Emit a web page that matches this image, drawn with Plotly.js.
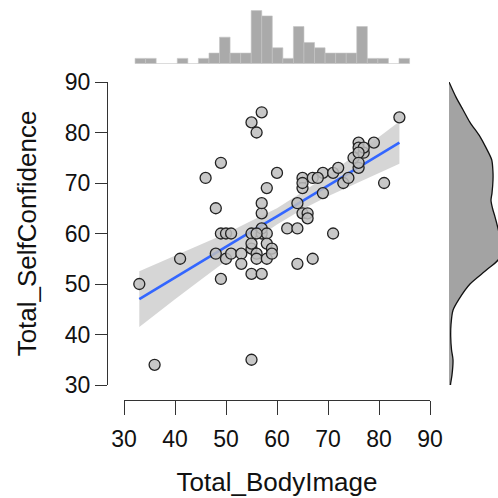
<!DOCTYPE html>
<html>
<head>
<meta charset="utf-8">
<script src="https://cdn.plot.ly/plotly-3.0.1.min.js"></script>
<style>html,body{margin:0;padding:0;background:#fff;}#chart{width:498px;height:498px;}</style>
</head>
<body>
<div id="chart"></div>
<script>
// Scatter data: Total_BodyImage (x) vs Total_SelfConfidence (y)
const bodyImage = [33,36,41,46,48,48,49,49,49,50,51,50,51,53,53,55,56,57,55,55,55,55,55,56,56,57,57,57,57,57,58,58,58,58,59,59,60,62,64,64,64,65,66,66,65,65,67,67,69,69,71,71,72,73,74,75,76,76,77,76,79,81,84,56,77,76,76,68,65];
const selfConfidence = [50,34,55,71,65,56,74,51,60,60,60,55,56,56,54,82,80,84,60,57,58,52,35,56,55,52,60,61,64,66,69,60,58,55,57,56,72,61,61,66,54,64,64,63,71,69,71,55,72,68,72,60,73,70,71,75,78,77,76,73,78,70,83,60,77,76,74,71,70];

// Linear fit with 95% confidence band
const fitX = [33,40,45,50,55,60,65,70,75,80,84];
const fitY = [47.0,51.3,54.3,57.3,60.4,63.4,66.5,69.5,72.5,75.6,78.0];
const fitLower = [41.5,47.0,50.8,54.6,58.3,61.8,64.8,67.4,69.7,72.0,73.8];
const fitUpper = [52.5,55.6,57.8,60.0,62.5,65.0,68.2,71.6,75.3,79.2,82.2];

// Top marginal histogram (counts per bin)
const histStart = 32.17;
const histWidth = 2.07;
const histCounts = [1,1,0,0,1,0,1,2,5,2,2,10,9,3,1,7,4,3,2,2,2,7,1,1,0,1];

// Right marginal density of Total_SelfConfidence
const densY = [90,87,84.5,82,79.2,77,74.6,72,70.6,68,66.6,65,63.3,61,58,55,52.8,50,47,44.8,42,39.6,37,35,32,30.4,30];
const densV = [0,7,14,21,31,37,42.7,44,44,43,42,43.5,46,49,52,50,37.7,21,10,4,2,1.7,2.5,4,3,1.7,1.5];

const xTicks = [30,40,50,60,70,80,90];
const yTicks = [30,40,50,60,70,80,90];

const histX = histCounts.map((c,i)=>histStart + histWidth*(i+0.5));

const W = 498;
const font = "Liberation Sans, Arial, sans-serif";

const traces = [
  {x: fitX.concat(fitX.slice().reverse()), y: fitUpper.concat(fitLower.slice().reverse()),
   type:'scatter', mode:'lines', fill:'toself', fillcolor:'rgba(153,153,153,0.4)',
   line:{width:0}, hoverinfo:'skip', xaxis:'x', yaxis:'y'},
  {x: fitX, y: fitY, type:'scatter', mode:'lines', line:{color:'#3366FF', width:2.6},
   xaxis:'x', yaxis:'y'},
  {x: bodyImage, y: selfConfidence, type:'scatter', mode:'markers',
   marker:{size:11, color:'rgba(190,190,190,0.85)', line:{color:'#222', width:1.3}},
   xaxis:'x', yaxis:'y', cliponaxis:false},
  {x: histX, y: histCounts, type:'bar', width: histWidth,
   marker:{color:'#AAAAAA', line:{color:'#C4C4C4', width:0.6}}, xaxis:'x2', yaxis:'y2'},
  {x: densV, y: densY, type:'scatter', mode:'lines', fill:'tozerox', fillcolor:'#A3A3A3',
   line:{color:'#111', width:1.3, shape:'spline', smoothing:0.8}, xaxis:'x3', yaxis:'y3'}
];

const xDom = [124/W, 430/W];
const yDom = [1-385/W, 1-82/W];

const layout = {
  width: W, height: W,
  margin:{l:0,r:0,t:0,b:0},
  paper_bgcolor:'#fff', plot_bgcolor:'rgba(0,0,0,0)',
  showlegend:false,
  font:{family:font, color:'#111'},
  xaxis:{domain:xDom, range:[30,90], anchor:'free', position:1-400/W,
    tickvals:xTicks, ticktext:xTicks.map(String), showgrid:false, zeroline:false,
    showline:true, linecolor:'#333', linewidth:1, ticks:'outside', ticklen:14, tickcolor:'#333',
    ticklabelstandoff:4,
    tickfont:{size:23, family:font, color:'#111'},
    title:{text:'Total_BodyImage', font:{size:26, family:font, color:'#111'}, standoff:22}},
  yaxis:{domain:yDom, range:[30,90], anchor:'free', position:107/W,
    tickvals:yTicks, ticktext:yTicks.map(String), showgrid:false, zeroline:false,
    showline:true, linecolor:'#333', linewidth:1, ticks:'outside', ticklen:12, tickcolor:'#333',
    tickfont:{size:23, family:font, color:'#111'},
    title:{text:'Total_SelfConfidence', font:{size:26, family:font, color:'#111'}, standoff:19}},
  xaxis2:{domain:xDom, range:[30,90], anchor:'y2', visible:false, showgrid:false, zeroline:false},
  yaxis2:{domain:[1-63.7/W, 1], range:[0,12], anchor:'x2', visible:false, showgrid:false, zeroline:false},
  xaxis3:{domain:[449/W, 1], range:[0,49], anchor:'y3', visible:false, showgrid:false, zeroline:false},
  yaxis3:{domain:yDom, range:[30,90], anchor:'x3', visible:false, showgrid:false, zeroline:false},
  bargap:0
};

Plotly.newPlot('chart', traces, layout, {displayModeBar:false, staticPlot:true});
</script>
</body>
</html>
